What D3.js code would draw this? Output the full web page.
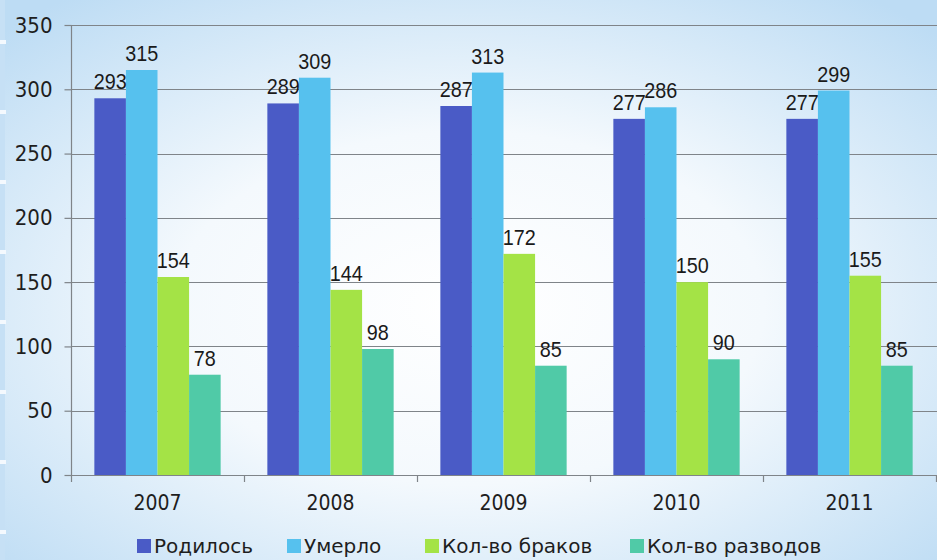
<!doctype html>
<html>
<head>
<meta charset="utf-8">
<script src="https://cdnjs.cloudflare.com/ajax/libs/d3/7.8.5/d3.min.js"></script>
<style>
  html, body { margin: 0; padding: 0; overflow: hidden; }
  svg { display: block; }
</style>
</head>
<body>
<svg id="chart" width="937" height="560"></svg>
<script>
    // data
    years = ["2007", "2008", "2009", "2010", "2011"]
    seriesNames = ["Родилось", "Умерло", "Кол-во браков", "Кол-во разводов"]
    born = [293, 289, 287, 277, 277]
    died = [315, 309, 313, 286, 299]
    marriages = [154, 144, 172, 150, 155]
    divorces = [78, 98, 85, 90, 85]
    yTicks = [0, 50, 100, 150, 200, 250, 300, 350]

    colors = ["#4a5bc6", "#56c1ee", "#a4e346", "#50caa7"]
    allSeries = [born, died, marriages, divorces]

    W = 937
    H = 560
    plotLeft = 71
    plotRight = 936
    plotTop = 25
    plotBottom = 475

    svg = d3.select("#chart")
    defs = svg.append("defs")

    // soft blue background, white in the middle
    var grad = defs.append("radialGradient")
        .attr("id", "bg")
        .attr("cx", "50%").attr("cy", "55%")
        .attr("r", "70%")
    grad.append("stop").attr("offset", "0%").attr("stop-color", "#ffffff")
    grad.append("stop").attr("offset", "45%").attr("stop-color", "#f4f9fd")
    grad.append("stop").attr("offset", "100%").attr("stop-color", "#bddcf4")

    svg.append("rect")
        .attr("width", W)
        .attr("height", H)
        .style("fill", "url(#bg)")

    // thin striped strip on the left edge
    svg.append("rect")
        .attr("width", 5)
        .attr("height", H)
        .style("fill", "#c6e0f5")
    svg.selectAll("rect.stripe")
        .data(d3.range(0, H, 70))
        .enter()
        .append("rect")
        .attr("class", "stripe")
        .attr("x", 0)
        .attr("y", d => d + 40)
        .attr("width", 6)
        .attr("height", 4)
        .style("fill", "#f4f9fe")

    x0 = d3.scaleBand()
        .domain(years)
        .range([plotLeft, plotRight])
        .paddingInner(0.27)
        .paddingOuter(0.135)

    x1 = d3.scaleBand()
        .domain(d3.range(seriesNames.length))
        .range([0, x0.bandwidth()])

    y = d3.scaleLinear()
        .domain([0, 350])
        .range([plotBottom, plotTop])

    // gridlines
    svg.selectAll("line.grid")
        .data(yTicks.filter(d => d > 0))
        .enter()
        .append("line")
        .attr("class", "grid")
        .attr("x1", plotLeft)
        .attr("x2", plotRight + 1)
        .attr("y1", d => Math.round(y(d)) + 0.5)
        .attr("y2", d => Math.round(y(d)) + 0.5)
        .style("stroke", "#7f8489")
        .style("stroke-width", 1.2)

    // y axis
    var yAxis = svg.append("g")
        .attr("transform", "translate(" + (plotLeft + 0.5) + ",0)")
        .call(d3.axisLeft(y).tickValues(yTicks).tickSize(7).tickPadding(12))
    yAxis.selectAll("line, path").style("stroke", "#7f8489").style("stroke-width", 1.2)
    yAxis.select("path").attr("d", "M0," + y(0) + "V" + y(350))
    yAxis.selectAll("text")
        .style("font-family", "'DejaVu Sans Condensed', 'DejaVu Sans', sans-serif")
        .style("font-size", "22px")
        .style("fill", "#1e1e1e")

    // bars
    var groups = svg.selectAll("g.year")
        .data(years)
        .enter()
        .append("g")
        .attr("class", "year")
        .attr("transform", d => "translate(" + x0(d) + ",0)")

    groups.selectAll("rect")
        .data((d, i) => allSeries.map((s, k) => ({k: k, v: s[i]})))
        .enter()
        .append("rect")
        .attr("x", d => x1(d.k))
        .attr("y", d => y(d.v))
        .attr("width", x1.bandwidth())
        .attr("height", d => y(0) - y(d.v))
        .style("fill", d => colors[d.k])

    // value labels, squeezed a little to look like the narrow original font
    groups.selectAll("text")
        .data((d, i) => allSeries.map((s, k) => ({k: k, v: s[i]})))
        .enter()
        .append("text")
        .attr("transform", d => "translate(" + (x1(d.k) + x1.bandwidth() / 2) + "," + (y(d.v) - 9) + ") scale(0.9,1)")
        .attr("text-anchor", "middle")
        .style("font-family", "'Liberation Sans', sans-serif")
        .style("font-size", "22px")
        .style("fill", "#1a1a1a")
        .text(d => d.v)

    // x axis
    var xAxisG = svg.append("g")
    xAxisG.append("line")
        .attr("x1", plotLeft)
        .attr("x2", plotRight + 1)
        .attr("y1", y(0) + 0.5)
        .attr("y2", y(0) + 0.5)
        .style("stroke", "#7f8489")
        .style("stroke-width", 1.2)
    xAxisG.selectAll("line.tick")
        .data(years.map(d => x0(d) - x0.step() * 0.135).concat([plotRight]))
        .enter()
        .append("line")
        .attr("class", "tick")
        .attr("x1", d => Math.round(d) + 0.5)
        .attr("x2", d => Math.round(d) + 0.5)
        .attr("y1", y(0))
        .attr("y2", y(0) + 7)
        .style("stroke", "#7f8489")
        .style("stroke-width", 1.2)
    xAxisG.selectAll("text")
        .data(years)
        .enter()
        .append("text")
        .attr("x", d => x0(d) + x0.bandwidth() / 2)
        .attr("y", 510)
        .attr("text-anchor", "middle")
        .style("font-family", "'DejaVu Sans Condensed', 'DejaVu Sans', sans-serif")
        .style("font-size", "21px")
        .style("fill", "#1e1e1e")
        .text(d => d)

    // legend
    legendX = [137, 287, 425, 630]
    var leg = svg.selectAll("g.legend")
        .data(seriesNames)
        .enter()
        .append("g")
        .attr("class", "legend")
        .attr("transform", (d, i) => "translate(" + legendX[i] + ",539)")
    leg.append("rect")
        .attr("width", 14)
        .attr("height", 14)
        .style("fill", (d, i) => colors[i])
    leg.append("text")
        .attr("x", 17)
        .attr("y", 14)
        .style("font-family", "'DejaVu Sans', sans-serif")
        .style("font-size", "20px")
        .style("fill", "#1e1e1e")
        .text(d => d)
</script>
</body>
</html>
